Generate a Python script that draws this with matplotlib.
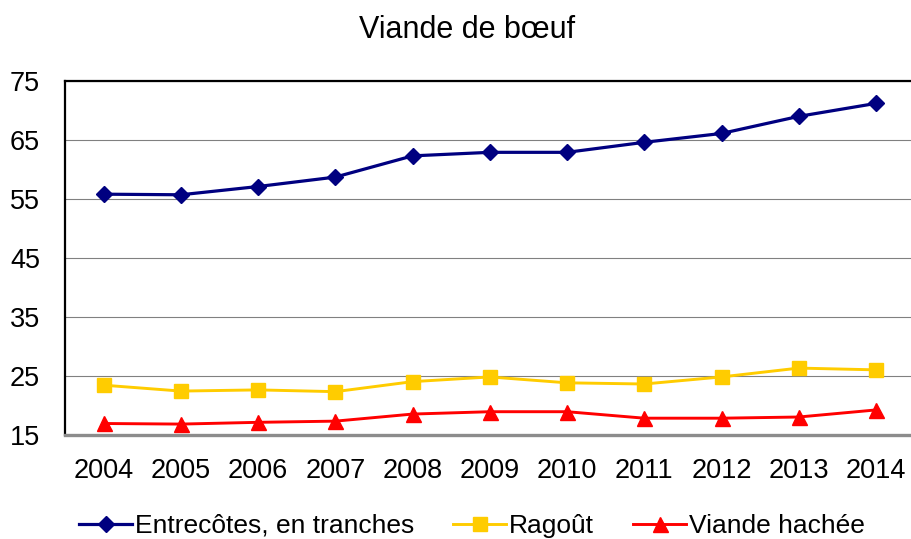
import matplotlib
matplotlib.use("Agg")
import matplotlib.pyplot as plt
import numpy as np

plt.rcParams['font.family'] = ['Liberation Sans', 'DejaVu Sans']

years = ["2004", "2005", "2006", "2007", "2008", "2009", "2010", "2011", "2012", "2013", "2014"]
entrecotes = [55.8, 55.7, 57.1, 58.7, 62.3, 62.9, 62.9, 64.6, 66.1, 69.0, 71.2]
ragout = [23.4, 22.4, 22.6, 22.3, 24.0, 24.8, 23.8, 23.6, 24.8, 26.3, 26.0]
hachee = [16.9, 16.8, 17.1, 17.3, 18.5, 18.9, 18.9, 17.8, 17.8, 18.0, 19.2]
yticks = [15, 25, 35, 45, 55, 65, 75]
title = "Viande de bœuf"
labels = ["Entrecôtes, en tranches", "Ragoût", "Viande hachée"]

W, H = 911, 539
fig = plt.figure(figsize=(W / 100, H / 100), dpi=100)
ax = fig.add_axes([65 / W, 1 - 434.7 / H, (914.6 - 65) / W, (434.7 - 81) / H])

x = np.arange(len(years))
l1, = ax.plot(x, entrecotes, color="#000080", lw=2.3, marker="D", ms=8,
              markeredgecolor="#000080", label=labels[0])
l2, = ax.plot(x, ragout, color="#FFCC00", lw=2.1, marker="s", ms=10.3,
              markeredgecolor="#FFCC00", label=labels[1])
l3, = ax.plot(x, hachee, color="#FF0000", lw=2.1, marker="^", ms=10.8,
              markeredgecolor="#FF0000", label=labels[2])

ax.set_xlim(-0.5, len(years) - 0.5)
ax.set_ylim(15, 75)
ax.set_yticks(yticks)
ax.set_xticks(x)
ax.set_xticklabels(years)
ax.yaxis.grid(True, color="#808080", lw=0.8)
ax.set_axisbelow(True)
ax.tick_params(axis="both", length=0, labelsize=19.5)
ax.tick_params(axis="y", pad=18)
ax.tick_params(axis="x", pad=17)

for s in ["left", "top"]:
    ax.spines[s].set_color("black")
    ax.spines[s].set_linewidth(1.6)
ax.spines["bottom"].set_color("#8c8c8c")
ax.spines["bottom"].set_linewidth(2.4)
ax.spines["right"].set_visible(False)

fig.text(466.7 / W, 1 - 30.5 / H, title, ha="center", va="center", fontsize=22)

fig.legend(handles=[l1, l2, l3], loc="center", bbox_to_anchor=(472 / W, 1 - 526 / H),
           ncol=3, frameon=False, fontsize=19, handlelength=2.0, handletextpad=0.1,
           columnspacing=1.5, borderpad=0, borderaxespad=0)

fig.savefig("out.png", dpi=100)
